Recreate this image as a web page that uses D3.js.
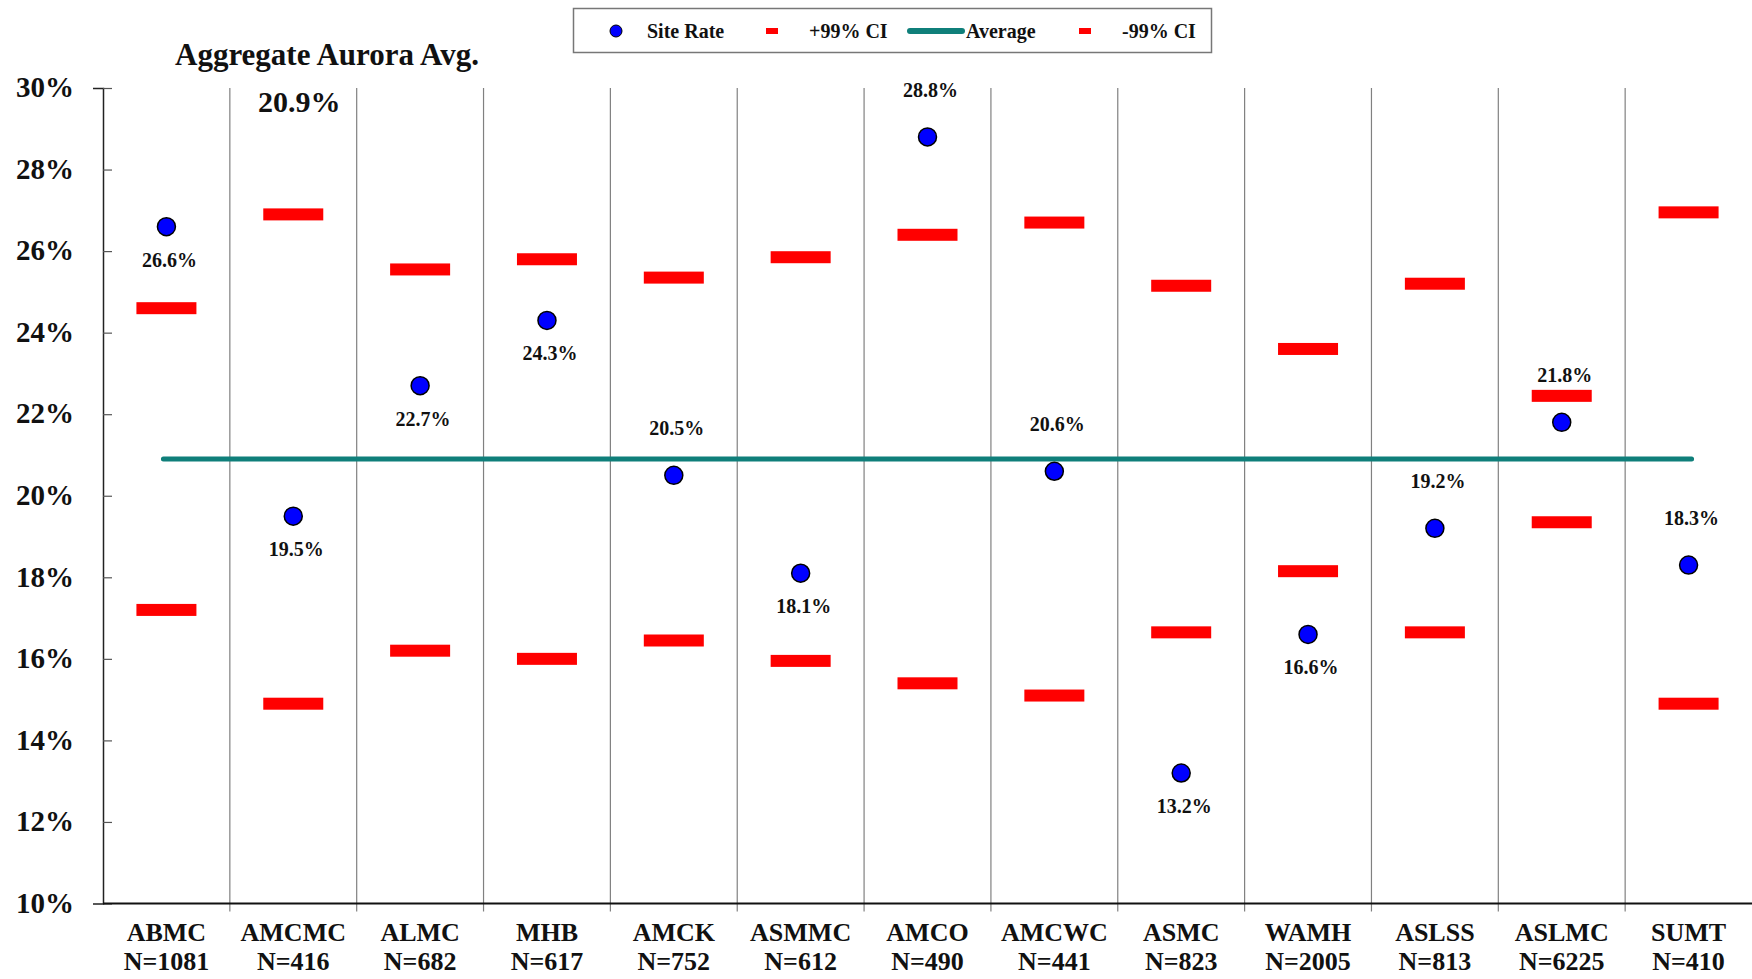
<!DOCTYPE html>
<html>
<head>
<meta charset="utf-8">
<script src="https://cdnjs.cloudflare.com/ajax/libs/d3/7.8.5/d3.min.js"></script>
<style>
  body { margin: 0; background: #fff; }
  svg text { font-family: "Liberation Serif", "Times New Roman", serif; font-weight: bold; fill: #111; }
</style>
</head>
<body>
<div class="canvas"></div>
<script>
// data
const sites = ['ABMC', 'AMCMC', 'ALMC', 'MHB', 'AMCK', 'ASMMC', 'AMCO', 'AMCWC', 'ASMC', 'WAMH', 'ASLSS', 'ASLMC', 'SUMT'];
const counts = [1081, 416, 682, 617, 752, 612, 490, 441, 823, 2005, 813, 6225, 410];
const siteRate = [26.6, 19.5, 22.7, 24.3, 20.5, 18.1, 28.8, 20.6, 13.2, 16.6, 19.2, 21.8, 18.3];
const upperCI = [24.6, 26.9, 25.55, 25.8, 25.35, 25.85, 26.4, 26.7, 25.15, 23.6, 25.2, 22.45, 26.95];
const lowerCI = [17.2, 14.9, 16.2, 16.0, 16.45, 15.95, 15.4, 15.1, 16.65, 18.15, 16.65, 19.35, 14.9];
const labelSide = ['below', 'below', 'below', 'below', 'above', 'below', 'above', 'above', 'below', 'below', 'above', 'above', 'above'];
const average = 20.9;
const yTicks = [10, 12, 14, 16, 18, 20, 22, 24, 26, 28, 30];

//1. dimensions
const width = 1752, height = 979;
const plot = {left: 103, right: 1752, top: 88, bottom: 903.5};

//2. svg
const svg = d3.select('.canvas')
    .append('svg')
    .attr('width', width)
    .attr('height', height);

//3. scales
const xScale = d3.scaleBand().domain(sites).range([plot.left, plot.right]).padding(0);
const yScale = d3.scaleLinear().domain([10, 30]).range([plot.bottom, plot.top]);
const cx = d => xScale(d) + xScale.bandwidth() / 2;

//4. category dividers (run a bit below the axis like tick marks)
svg.append('g')
    .selectAll('line')
    .data(sites.slice(1))
    .enter()
    .append('line')
        .attr('x1', d => xScale(d))
        .attr('x2', d => xScale(d))
        .attr('y1', plot.top)
        .attr('y2', plot.bottom + 8)
        .attr('stroke', '#808080')
        .attr('stroke-width', 1.2);

//5. y axis
const yAxisGroup = svg.append('g')
    .attr('transform', `translate(${plot.left},0)`)
    .call(d3.axisLeft(yScale).tickValues(yTicks).tickFormat(d => d + '%').tickSize(10).tickPadding(19));
yAxisGroup.select('.domain').attr('stroke', '#222').attr('stroke-width', 1.5);
yAxisGroup.selectAll('.tick line').attr('x2', 9).attr('stroke', '#555').attr('stroke-width', 1.2);
yAxisGroup.selectAll('.tick text')
    .attr('font-size', 29)
    .attr('dy', '0.3em')
    .style('font-family', '"Liberation Serif", "Times New Roman", serif')
    .style('font-weight', 'bold')
    .attr('fill', '#111');

//6. x axis line + two line labels
svg.append('line')
    .attr('x1', plot.left).attr('x2', plot.right)
    .attr('y1', plot.bottom).attr('y2', plot.bottom)
    .attr('stroke', '#111').attr('stroke-width', 2);

const xLabels = svg.append('g')
    .selectAll('text')
    .data(sites)
    .enter()
    .append('text')
        .attr('x', d => cx(d))
        .attr('y', 941)
        .attr('text-anchor', 'middle')
        .attr('font-size', 26);
xLabels.append('tspan').text(d => d);
xLabels.append('tspan')
    .attr('x', d => cx(d))
    .attr('dy', 29)
    .text((d, i) => 'N=' + counts[i]);

//7. CI bars
const barW = 60, barH = 12;
const drawBars = (values) => {
    svg.append('g')
        .selectAll('rect')
        .data(values)
        .enter()
        .append('rect')
            .attr('x', (d, i) => cx(sites[i]) - barW / 2)
            .attr('y', d => yScale(d) - barH / 2)
            .attr('width', barW)
            .attr('height', barH)
            .attr('fill', '#ff0000');
};
drawBars(upperCI);
drawBars(lowerCI);

//8. average line
svg.append('line')
    .attr('x1', cx(sites[0]) - 3)
    .attr('x2', cx(sites[sites.length - 1]) + 3)
    .attr('y1', yScale(average))
    .attr('y2', yScale(average))
    .attr('stroke', '#0f7f7a')
    .attr('stroke-width', 5)
    .attr('stroke-linecap', 'round');

//9. site rate points + labels
svg.append('g')
    .selectAll('circle')
    .data(siteRate)
    .enter()
    .append('circle')
        .attr('cx', (d, i) => cx(sites[i]))
        .attr('cy', d => yScale(d))
        .attr('r', 9)
        .attr('fill', '#0000ff')
        .attr('stroke', '#000')
        .attr('stroke-width', 1.5);

svg.append('g')
    .selectAll('text')
    .data(siteRate)
    .enter()
    .append('text')
        .attr('x', (d, i) => cx(sites[i]) + 3)
        .attr('y', (d, i) => yScale(d) + (labelSide[i] === 'below' ? 40 : -40))
        .attr('text-anchor', 'middle')
        .attr('font-size', 20)
        .text(d => d.toFixed(1) + '%');

//10. title and average value
svg.append('text')
    .attr('x', 175).attr('y', 65)
    .attr('font-size', 31)
    .text('Aggregate Aurora Avg.');
svg.append('text')
    .attr('x', 258).attr('y', 112)
    .attr('font-size', 30)
    .text(average.toFixed(1) + '%');

//11. legend
const legend = svg.append('g');
legend.append('rect')
    .attr('x', 573.5).attr('y', 8.5)
    .attr('width', 638).attr('height', 44)
    .attr('fill', '#fff')
    .attr('stroke', '#777')
    .attr('stroke-width', 1.5);
const ly = 31;
legend.append('circle').attr('cx', 616).attr('cy', ly).attr('r', 6)
    .attr('fill', '#0000ff').attr('stroke', '#000').attr('stroke-width', 1);
legend.append('rect').attr('x', 766).attr('y', ly - 3).attr('width', 12).attr('height', 6).attr('fill', '#ff0000');
legend.append('line').attr('x1', 910).attr('x2', 962).attr('y1', ly).attr('y2', ly)
    .attr('stroke', '#0f7f7a').attr('stroke-width', 6).attr('stroke-linecap', 'round');
legend.append('rect').attr('x', 1079).attr('y', ly - 3).attr('width', 12).attr('height', 6).attr('fill', '#ff0000');
const legendText = [
    {x: 647, t: 'Site Rate'},
    {x: 809, t: '+99% CI'},
    {x: 966, t: 'Average'},
    {x: 1122, t: '-99% CI'}
];
legend.selectAll('text.lg')
    .data(legendText)
    .enter()
    .append('text')
        .attr('x', d => d.x)
        .attr('y', ly + 7)
        .attr('font-size', 20)
        .text(d => d.t);
</script>
</body>
</html>
